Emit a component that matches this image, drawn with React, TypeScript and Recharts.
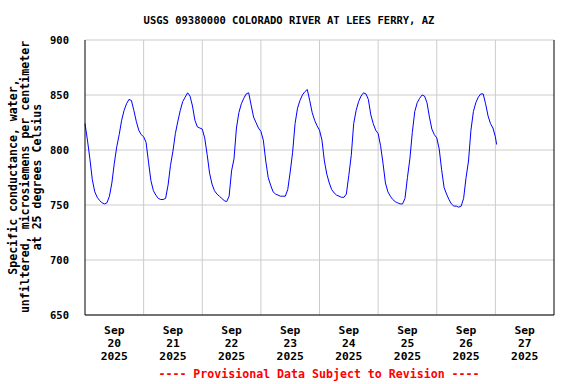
import React from "react"
import {
  LineChart,
  Line,
  XAxis,
  YAxis,
  CartesianGrid,
  ReferenceLine,
} from "recharts"

// hourly specific conductance (hour 0..23 of each day)
const sep20 = [824, 809, 792, 773, 762, 757, 754, 752, 751, 752, 758, 770, 788, 803, 814, 827, 836, 842, 846, 845, 836, 826, 818, 814]
const sep21 = [812, 807, 789, 772, 763, 759, 756, 755, 755, 756, 768, 786, 799, 815, 826, 836, 844, 848, 852, 849, 840, 827, 821, 820]
const sep22 = [819, 811, 796, 779, 769, 763, 760, 758, 756, 754, 753, 758, 781, 792, 820, 834, 842, 847, 851, 852, 841, 830, 825, 820]
const sep23 = [817, 809, 790, 775, 768, 762, 760, 759, 758, 758, 758, 764, 780, 798, 824, 838, 845, 850, 853, 855, 845, 834, 827, 822]
const sep24 = [818, 809, 790, 778, 770, 764, 761, 759, 758, 757, 757, 760, 777, 795, 824, 836, 844, 849, 852, 851, 846, 832, 824, 818]
const sep25 = [815, 804, 788, 770, 762, 758, 755, 753, 752, 751, 751, 756, 775, 792, 816, 835, 843, 847, 850, 849, 843, 830, 819, 814]
const sep26 = [811, 801, 782, 766, 760, 755, 751, 749, 749, 748, 749, 756, 775, 790, 818, 835, 843, 848, 851, 851, 842, 831, 824, 820]
const sep27Hours = [0, 0.5]
const sep27 = [812, 805]

const days = [sep20, sep21, sep22, sep23, sep24, sep25, sep26]
const dayLabels = ["20", "21", "22", "23", "24", "25", "26", "27"]
const yTicks = [650, 700, 750, 800, 850, 900]
const midnights = [24, 48, 72, 96, 120, 144, 168]
const noonTicks = [12, 36, 60, 84, 108, 132, 156, 180]

const data: { h: number; v: number }[] = []
days.forEach((vals, d) => {
  vals.forEach((v, i) => data.push({ h: d * 24 + i, v }))
})
sep27.forEach((v, i) => data.push({ h: 168 + sep27Hours[i], v }))

const FONT = "'DejaVu Sans Mono', monospace"

const DateTick = (props: any) => {
  const { x, payload } = props
  const idx = noonTicks.indexOf(payload.value)
  return (
    <text x={x} textAnchor="middle" fontFamily={FONT} fontWeight="bold" fontSize={11.3} fill="#000">
      <tspan x={x} y={334}>Sep</tspan>
      <tspan x={x} y={347}>{dayLabels[idx]}</tspan>
      <tspan x={x} y={360}>2025</tspan>
    </text>
  )
}

// y axis title plus the chart title (drawn as the axis label so it lands in the svg)
const YLabel = () => (
  <g fontFamily={FONT} fontWeight="bold" fill="#000">
    <text x={289} y={24} textAnchor="middle" fontSize={10.5}>
      USGS 09380000 COLORADO RIVER AT LEES FERRY, AZ
    </text>
    <text fontSize={11.6} textAnchor="middle" transform="translate(17,177) rotate(-90)">Specific conductance, water,</text>
    <text fontSize={11.6} textAnchor="middle" transform="translate(29,177) rotate(-90)">unfiltered, microsiemens per centimeter</text>
    <text fontSize={11.6} textAnchor="middle" transform="translate(41,177) rotate(-90)">at 25 degrees Celsius</text>
  </g>
)

const Footer = () => (
  <text x={319} y={378} textAnchor="middle" fontFamily={FONT} fontWeight="bold" fontSize={11.6} fill="#ff0000">
    ---- Provisional Data Subject to Revision ----
  </text>
)

export default function App() {
  return (
    <div style={{ position: "absolute", left: 0, top: 0, background: "#fff" }}>
      <LineChart width={576} height={384} data={data} margin={{ top: 40, right: 22, left: 0, bottom: 0 }}>
        <CartesianGrid vertical={false} stroke="#cccccc" yAxisId="main" xAxisId="main" />
        {midnights.map((m) => (
          <ReferenceLine key={m} x={m} xAxisId="main" yAxisId="main" stroke="#cccccc" />
        ))}
        <XAxis
          xAxisId="main"
          dataKey="h"
          type="number"
          domain={[0, 192]}
          ticks={noonTicks}
          interval={0}
          height={69}
          tickLine={false}
          axisLine={{ stroke: "#000" }}
          tick={<DateTick />}
          label={<Footer />}
        />
        <XAxis
          xAxisId="top"
          orientation="top"
          dataKey="h"
          type="number"
          domain={[0, 192]}
          height={0}
          tick={false}
          tickLine={false}
          axisLine={{ stroke: "#000" }}
        />
        <YAxis
          yAxisId="main"
          domain={[650, 900]}
          ticks={yTicks}
          width={85}
          tickLine={false}
          tickSize={6}
          tickMargin={10}
          axisLine={{ stroke: "#000" }}
          tick={{ fontFamily: FONT, fontWeight: "bold", fontSize: 10.5, fill: "#000" }}
          label={<YLabel />}
        />
        <ReferenceLine x={192} xAxisId="main" yAxisId="main" stroke="#000" />
        <Line
          xAxisId="main"
          yAxisId="main"
          dataKey="v"
          type="linear"
          stroke="#0000ff"
          strokeWidth={1}
          dot={false}
          isAnimationActive={false}
        />
      </LineChart>
    </div>
  )
}
